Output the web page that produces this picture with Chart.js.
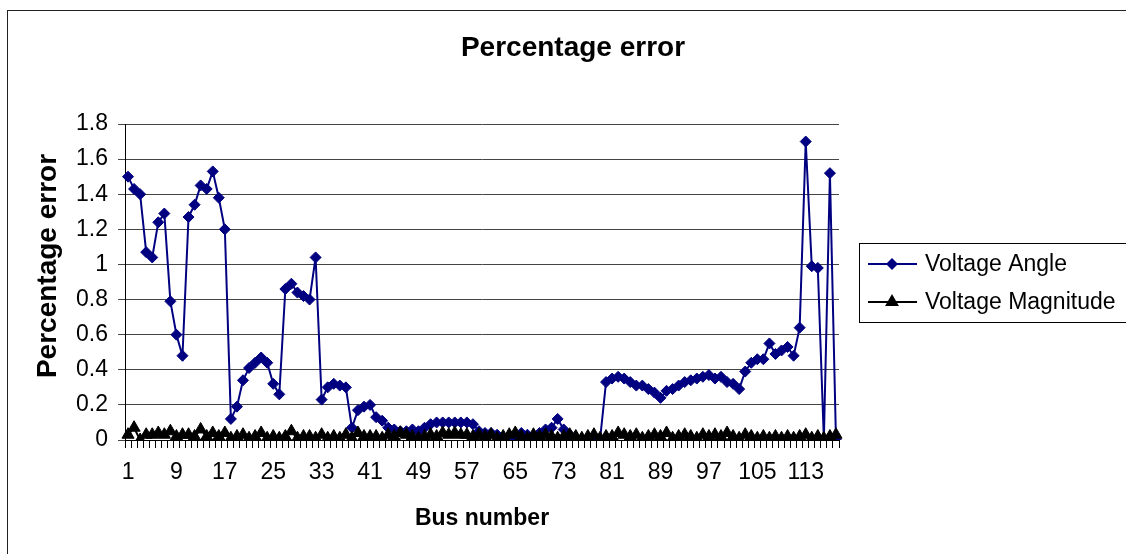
<!DOCTYPE html>
<html><head><meta charset="utf-8">
<script src="https://cdn.jsdelivr.net/npm/chart.js@4.4.0/dist/chart.umd.min.js"></script>
<style>html,body{margin:0;padding:0;background:#fff;overflow:hidden}#wrap{position:relative;width:1126px;height:554px}</style>
</head><body><div id="wrap"><canvas id="c" width="1126" height="554"></canvas></div>
<script>
const busNumbers = [
  1,2,3,4,5,6,7,8,9,10,
  11,12,13,14,15,16,17,18,19,20,
  21,22,23,24,25,26,27,28,29,30,
  31,32,33,34,35,36,37,38,39,40,
  41,42,43,44,45,46,47,48,49,50,
  51,52,53,54,55,56,57,58,59,60,
  61,62,63,64,65,66,67,68,69,70,
  71,72,73,74,75,76,77,78,79,80,
  81,82,83,84,85,86,87,88,89,90,
  91,92,93,94,95,96,97,98,99,100,
  101,102,103,104,105,106,107,108,109,110,
  111,112,113,114,115,116,117,118
];
const voltageAngleError = [
  1.50,1.43,1.40,1.07,1.04,1.24,1.29,0.79,0.60,0.48,
  1.27,1.34,1.45,1.43,1.53,1.38,1.20,0.12,0.19,0.34,
  0.41,0.44,0.47,0.44,0.32,0.26,0.86,0.89,0.84,0.82,
  0.80,1.04,0.23,0.30,0.32,0.31,0.30,0.07,0.17,0.19,
  0.20,0.13,0.11,0.07,0.06,0.05,0.05,0.06,0.05,0.07,
  0.09,0.10,0.10,0.10,0.10,0.10,0.10,0.09,0.05,0.04,
  0.04,0.03,0.01,0.00,0.02,0.04,0.03,0.02,0.04,0.06,
  0.07,0.12,0.06,0.03,0.01,0.00,0.00,0.00,0.00,0.33,
  0.35,0.36,0.35,0.33,0.31,0.31,0.29,0.27,0.24,0.28,
  0.29,0.31,0.33,0.34,0.35,0.36,0.37,0.35,0.36,0.33,
  0.32,0.29,0.39,0.44,0.46,0.46,0.55,0.49,0.51,0.53,
  0.48,0.64,1.70,0.99,0.98,0.00,1.52,0.00
];
const voltageMagnitudeError = [
  0.03,0.07,0.00,0.03,0.03,0.04,0.03,0.05,0.02,0.03,
  0.03,0.02,0.06,0.02,0.04,0.02,0.04,0.01,0.02,0.03,
  0.01,0.02,0.04,0.01,0.02,0.01,0.02,0.05,0.01,0.02,
  0.02,0.01,0.03,0.01,0.02,0.01,0.03,0.01,0.04,0.02,
  0.02,0.02,0.01,0.03,0.02,0.04,0.03,0.02,0.01,0.02,
  0.03,0.02,0.04,0.03,0.04,0.03,0.03,0.02,0.03,0.02,
  0.03,0.01,0.02,0.03,0.04,0.02,0.01,0.03,0.02,0.03,
  0.02,0.01,0.02,0.03,0.02,0.01,0.02,0.03,0.01,0.02,
  0.02,0.04,0.03,0.02,0.03,0.01,0.02,0.03,0.02,0.04,
  0.01,0.02,0.03,0.02,0.01,0.03,0.02,0.03,0.02,0.04,
  0.02,0.01,0.03,0.02,0.01,0.02,0.01,0.02,0.01,0.02,
  0.01,0.02,0.03,0.01,0.02,0.01,0.02,0.03
];
const xTickLabels = ['1','9','17','25','33','41','49','57','65','73','81','89','97','105','113'];
const yTickValues = [0,0.2,0.4,0.6,0.8,1,1.2,1.4,1.6,1.8];
const seriesNames = ['Voltage Angle','Voltage Magnitude'];
const chartTitle = 'Percentage error';
const xAxisTitle = 'Bus number';
const yAxisTitle = 'Percentage error';

const FONT = "'Liberation Sans', Arial, sans-serif";
const NAVY = '#000080';
Chart.defaults.font.family = FONT;
Chart.defaults.color = '#000';

function diamond(ctx, x, y, r, color) {
  ctx.beginPath(); ctx.moveTo(x - r, y); ctx.lineTo(x, y - r); ctx.lineTo(x + r, y); ctx.lineTo(x, y + r); ctx.closePath();
  ctx.fillStyle = color; ctx.fill();
}
function triangle(ctx, x, y, r, color) {
  ctx.beginPath(); ctx.moveTo(x, y - r); ctx.lineTo(x + r * 0.866, y + r / 2); ctx.lineTo(x - r * 0.866, y + r / 2); ctx.closePath();
  ctx.fillStyle = color; ctx.fill();
}

const decor = {
  id: 'decor',
  beforeDraw(chart) {
    const ctx = chart.ctx; ctx.save(); ctx.fillStyle = '#fff'; ctx.fillRect(0, 0, chart.width, chart.height); ctx.restore();
  },
  afterDraw(chart) {
    const ctx = chart.ctx; ctx.save();
    ctx.strokeStyle = '#222'; ctx.lineWidth = 1; ctx.strokeRect(7.5, 10.5, 1200, 600);
    ctx.fillStyle = '#000'; ctx.textAlign = 'center'; ctx.textBaseline = 'middle';
    ctx.font = "bold 28px " + FONT; ctx.fillText(chartTitle, 573, 48);
    ctx.save(); ctx.translate(48, 266); ctx.rotate(-Math.PI / 2);
    ctx.font = "bold 28px " + FONT; ctx.fillText(yAxisTitle, 0, 0); ctx.restore();
    ctx.strokeStyle = '#000'; ctx.lineWidth = 1; ctx.strokeRect(859.5, 243.5, 300, 79);
    const rows = [{y: 264, color: NAVY, mk: diamond, r: 6}, {y: 302, color: '#000', mk: triangle, r: 8}];
    rows.forEach((row, i) => {
      ctx.strokeStyle = row.color; ctx.lineWidth = 2;
      ctx.beginPath(); ctx.moveTo(868, row.y); ctx.lineTo(917, row.y); ctx.stroke();
      row.mk(ctx, 892, row.y, row.r, row.color);
      ctx.fillStyle = '#000'; ctx.textAlign = 'left'; ctx.textBaseline = 'middle';
      ctx.font = "23px " + FONT; ctx.fillText(seriesNames[i], 925, row.y + 1);
    });
    ctx.restore();
  }
};

new Chart(document.getElementById('c'), {
  type: 'line',
  data: {
    labels: busNumbers.map(String),
    datasets: [
      { label: seriesNames[0], data: voltageAngleError, borderColor: NAVY, backgroundColor: NAVY, borderWidth: 2,
        pointStyle: 'rectRot', pointRadius: 5.5, pointBorderWidth: 1, pointBorderColor: NAVY, pointBackgroundColor: NAVY, tension: 0, order: 2 },
      { label: seriesNames[1], data: voltageMagnitudeError, borderColor: '#000', backgroundColor: '#000', borderWidth: 2,
        pointStyle: 'triangle', pointRadius: 7, pointBorderWidth: 1, pointBorderColor: '#000', pointBackgroundColor: '#000', tension: 0, order: 1 }
    ]
  },
  options: {
    responsive: false, animation: false, devicePixelRatio: 1,
    layout: { padding: { left: 0, right: 287, top: 124, bottom: 0 } },
    plugins: { legend: { display: false }, title: { display: false }, tooltip: { enabled: false } },
    scales: {
      x: {
        type: 'category', offset: true,
        grid: { display: true, drawOnChartArea: false, drawTicks: true, tickLength: 8, color: '#000', offset: true },
        border: { display: true, color: '#000', width: 1 },
        ticks: { autoSkip: false, maxRotation: 0, minRotation: 0, padding: 11, font: { size: 23 }, color: '#000',
          callback: function(v, i) { const l = this.getLabelForValue(v); return xTickLabels.includes(l) ? l : ''; } },
        title: { display: true, text: xAxisTitle, font: { size: 23, weight: 'bold' }, color: '#000', padding: { top: 0, bottom: 22 } },
        afterFit: s => { s.height = 114; }
      },
      y: {
        min: 0, max: 1.8,
        grid: { color: '#444', lineWidth: 1, drawTicks: true, tickLength: 7 },
        border: { display: true, color: '#000', width: 1 },
        ticks: { stepSize: 0.2, padding: 10, font: { size: 23 }, color: '#000',
          callback: v => { const t = yTickValues.find(k => Math.abs(k - v) < 1e-6); return t === undefined ? '' : String(t); } },
        afterFit: s => { s.width = 125; }
      }
    }
  },
  plugins: [decor]
});
</script>
</body></html>
